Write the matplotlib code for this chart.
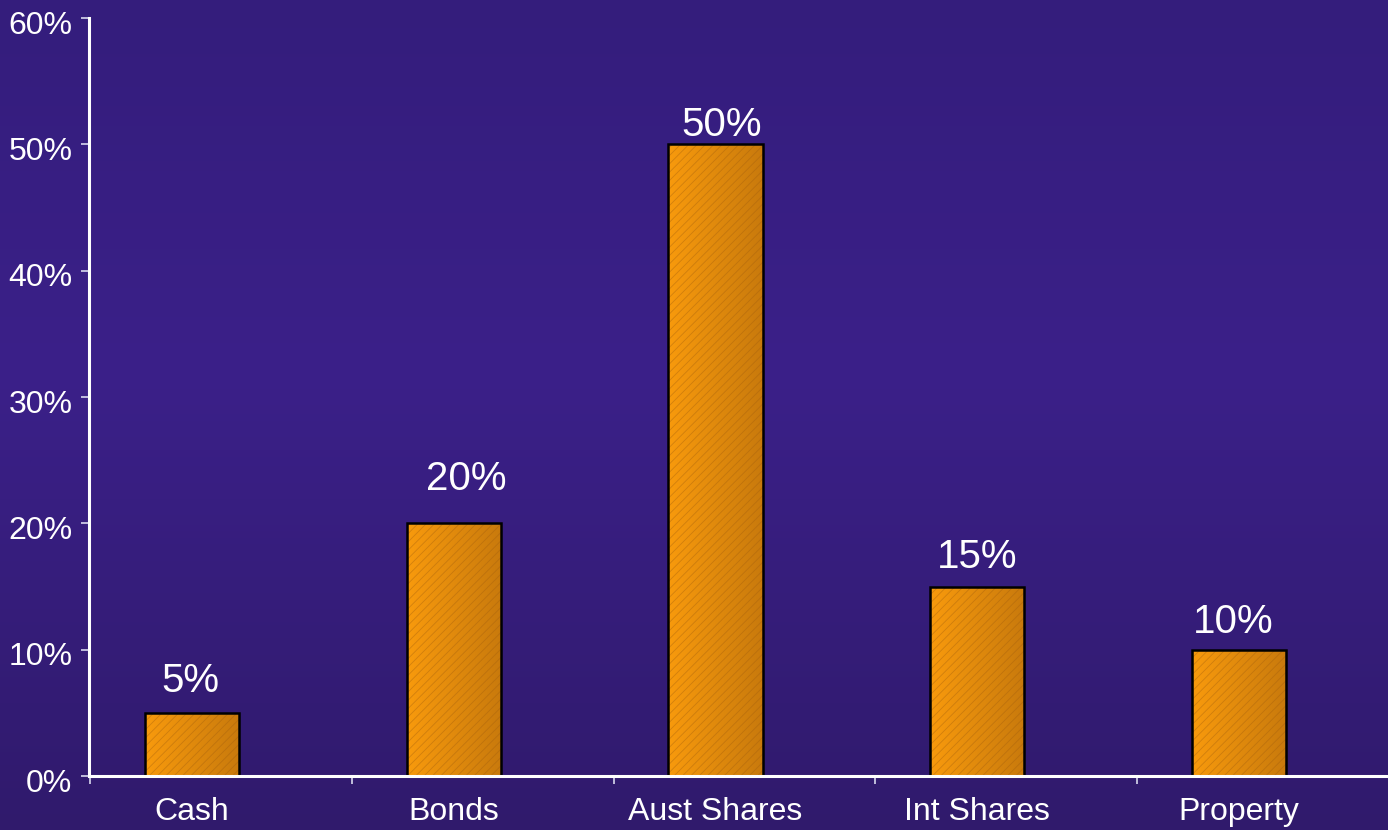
import numpy as np
import matplotlib.pyplot as plt
import matplotlib.transforms as mtransforms
from matplotlib.colors import LinearSegmentedColormap

# asset allocation (%)
categories = ['Cash', 'Bonds', 'Aust Shares', 'Int Shares', 'Property']
allocation = [5, 20, 50, 15, 10]
y_ticks = [0, 10, 20, 30, 40, 50, 60]

# nudges (points) for the value labels sitting above each bar
label_dx = [-1, 9, 4, 0, -4]
label_dy = [15, 24, 6, 13, 12]

narrow = ['Liberation Sans Narrow', 'Liberation Sans', 'DejaVu Sans']
regular = ['Liberation Sans', 'DejaVu Sans']

fig = plt.figure(figsize=(13.88, 8.30), dpi=100)

# purple backdrop, slightly lighter through the middle
bg = fig.add_axes([0, 0, 1, 1], zorder=-10)
bg_cmap = LinearSegmentedColormap.from_list(
    'bg', [(0.0, '#341d7c'), (0.45, '#3b2089'), (1.0, '#301a6c')])
bg.imshow(np.linspace(0, 1, 256).reshape(-1, 1), aspect='auto',
          cmap=bg_cmap, extent=[0, 1, 0, 1])
bg.axis('off')

ax = fig.add_axes([89 / 1388, 54 / 830, 1 - 89 / 1388, (776 - 18) / 830])
ax.patch.set_alpha(0)

x = np.arange(len(categories))
bars = ax.bar(x, allocation, width=0.36, color='none', edgecolor='black',
              linewidth=1.8, zorder=4)

# orange fill, darker towards the right edge
bar_cmap = LinearSegmentedColormap.from_list('bar', ['#f89a0c', '#c97a0c'])
for b in bars:
    x0, y0 = b.get_x(), b.get_y()
    im = ax.imshow(np.linspace(0, 1, 64).reshape(1, -1), cmap=bar_cmap,
                   aspect='auto', zorder=2,
                   extent=[x0, x0 + b.get_width(), y0, y0 + b.get_height()])
    im.set_clip_path(b)

plt.rcParams['hatch.linewidth'] = 0.6
ax.bar(x, allocation, width=0.36, color='none', edgecolor=(0.62, 0.36, 0.05, 0.4),
       hatch='////', linewidth=0, zorder=3)

for xi, v, dx, dy in zip(x, allocation, label_dx, label_dy):
    ax.annotate(f'{v}%', (xi, v), xytext=(dx, dy), textcoords='offset points',
                ha='center', va='baseline', color='white', fontsize=29,
                family=regular)

ax.set_xlim(-0.394, 4.569)
ax.set_ylim(0, 60)

for side in ['top', 'right']:
    ax.spines[side].set_visible(False)
for side in ['left', 'bottom']:
    ax.spines[side].set_color('white')
    ax.spines[side].set_linewidth(2.2)
    ax.spines[side].set_zorder(5)

ax.set_yticks(y_ticks)
ax.set_yticklabels([f'{t}%' for t in y_ticks], family=narrow, fontsize=23,
                   color='white')
ax.tick_params(axis='y', direction='out', length=6, width=1.2,
               color='#d8d8ee', pad=6)
# percentages sit a touch below their tick marks
shift = mtransforms.ScaledTranslation(0, -4 / 100, fig.dpi_scale_trans)
for lab in ax.get_yticklabels():
    lab.set_transform(lab.get_transform() + shift)

# category names under the bars, tick marks between categories
ax.set_xticks(x)
ax.set_xticklabels(categories, family=narrow, fontsize=23, color='white')
ax.set_xticks(x - 0.39, minor=True)
ax.tick_params(axis='x', which='major', length=0, pad=15)
ax.tick_params(axis='x', which='minor', direction='out', length=6, width=1.2,
               color='#d8d8ee')

fig.savefig('out.png', dpi=100)
